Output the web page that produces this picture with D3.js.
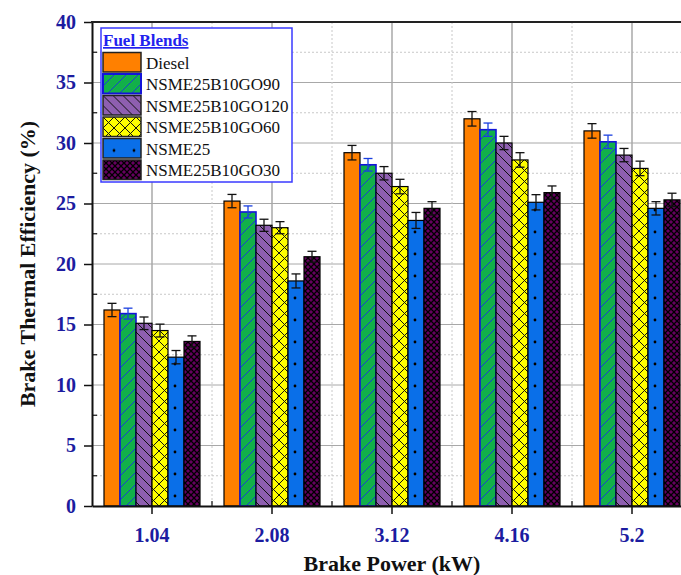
<!DOCTYPE html>
<html>
<head>
<meta charset="utf-8">
<script src="https://cdnjs.cloudflare.com/ajax/libs/d3/7.8.5/d3.min.js"></script>
<style>
  body { margin: 0; background: #fff; }
  svg { display: block; font-family: "Liberation Serif", "Times New Roman", serif; }
</style>
</head>
<body>
<div id="chart"></div>
<script>
// categories and series
const categories = ["1.04", "2.08", "3.12", "4.16", "5.2"];
const seriesNames = ["Diesel", "NSME25B10GO90", "NSME25B10GO120", "NSME25B10GO60", "NSME25", "NSME25B10GO30"];
const diesel = [16.2, 25.2, 29.2, 32.0, 31.0];
const go90 = [15.9, 24.3, 28.2, 31.1, 30.1];
const go120 = [15.1, 23.2, 27.5, 30.0, 29.0];
const go60 = [14.5, 23.0, 26.4, 28.6, 27.9];
const nsme25 = [12.3, 18.6, 23.6, 25.1, 24.6];
const go30 = [13.6, 20.6, 24.6, 25.9, 25.3];
// error bar half-widths
const dieselErr = [0.55, 0.55, 0.6, 0.6, 0.6];
const go90Err = [0.45, 0.5, 0.52, 0.55, 0.55];
const go120Err = [0.52, 0.5, 0.55, 0.55, 0.55];
const go60Err = [0.53, 0.5, 0.6, 0.6, 0.6];
const nsme25Err = [0.55, 0.58, 0.66, 0.63, 0.55];
const go30Err = [0.46, 0.45, 0.55, 0.55, 0.55];
const yTicks = [0, 5, 10, 15, 20, 25, 30, 35, 40];

const values = [diesel, go90, go120, go60, nsme25, go30];
const errors = [dieselErr, go90Err, go120Err, go60Err, nsme25Err, go30Err];

// fills / strokes per series (pattern ids)
const fills = ["#ff8000", "url(#pGreen)", "url(#pPurple)", "url(#pYellow)", "url(#pBlue)", "url(#pMaroon)"];
const strokes = ["#000", "#1414d8", "#000", "#000", "#000", "#000"];

let svgWidth = 681;
let svgHeight = 575;
let margin = { top: 22, left: 92 };
let plotRight = 692; // frame continues past the window edge
let plotBottom = 506;

let svg = d3.select("#chart")
    .append("svg")
    .attr("width", svgWidth)
    .attr("height", svgHeight);

// patterns
let defs = svg.append("defs");

let pg = defs.append("pattern").attr("id", "pGreen")
    .attr("patternUnits", "userSpaceOnUse").attr("width", 12).attr("height", 12);
pg.append("rect").attr("width", 12).attr("height", 12).attr("fill", "#12b04a");
pg.append("path").attr("d", "M-3,3 L3,-3 M0,12 L12,0 M9,15 L15,9")
    .attr("stroke", "#1a3fd0").attr("stroke-width", 1);

let pp = defs.append("pattern").attr("id", "pPurple")
    .attr("patternUnits", "userSpaceOnUse").attr("width", 10).attr("height", 10);
pp.append("rect").attr("width", 10).attr("height", 10).attr("fill", "#8e5fb0");
pp.append("path").attr("d", "M-3,7 L3,13 M0,0 L10,10 M7,-3 L13,3")
    .attr("stroke", "#111").attr("stroke-width", 1);

let py = defs.append("pattern").attr("id", "pYellow")
    .attr("patternUnits", "userSpaceOnUse").attr("width", 11).attr("height", 11);
py.append("rect").attr("width", 11).attr("height", 11).attr("fill", "#ffff00");
py.append("path").attr("d", "M0,0 L11,11 M11,0 L0,11")
    .attr("stroke", "#111").attr("stroke-width", 1);

let pb = defs.append("pattern").attr("id", "pBlue")
    .attr("patternUnits", "userSpaceOnUse").attr("width", 20).attr("height", 22);
pb.append("rect").attr("width", 20).attr("height", 22).attr("fill", "#0a6fe8");
pb.append("circle").attr("cx", 11).attr("cy", 12).attr("r", 1.4).attr("fill", "#000");

let pm = defs.append("pattern").attr("id", "pMaroon")
    .attr("patternUnits", "userSpaceOnUse").attr("width", 6).attr("height", 6);
pm.append("rect").attr("width", 6).attr("height", 6).attr("fill", "#66005f");
pm.append("path").attr("d", "M0,0 L6,6 M6,0 L0,6")
    .attr("stroke", "#000").attr("stroke-width", 1.3);

// scales
let xScale = d3.scaleBand()
    .domain(categories)
    .range([margin.left, plotRight])
    .paddingInner(0.2)
    .paddingOuter(0.1);
let xInner = d3.scaleBand()
    .domain(d3.range(seriesNames.length))
    .range([0, xScale.bandwidth()]);
let yScale = d3.scaleLinear()
    .domain([0, 40])
    .range([plotBottom, margin.top]);

// grid
let grid = svg.append("g");
let minorY = d3.range(2.5, 40, 5);
grid.selectAll(".gminy").data(minorY).enter().append("line")
    .attr("x1", margin.left).attr("x2", plotRight)
    .attr("y1", d => yScale(d)).attr("y2", d => yScale(d))
    .attr("stroke", "#c8c8c8").attr("stroke-dasharray", "2,2").attr("stroke-width", 1);
grid.selectAll(".gmajy").data(yTicks.slice(1, -1)).enter().append("line")
    .attr("x1", margin.left).attr("x2", plotRight)
    .attr("y1", d => yScale(d)).attr("y2", d => yScale(d))
    .attr("stroke", "#a8a8a8").attr("stroke-width", 1);
let step = xScale.step();
let midX = categories.slice(0, -1).map(c => xScale(c) + xScale.bandwidth() / 2 + step / 2);
grid.selectAll(".gminx").data(midX).enter().append("line")
    .attr("x1", d => d).attr("x2", d => d)
    .attr("y1", margin.top).attr("y2", plotBottom)
    .attr("stroke", "#c8c8c8").attr("stroke-dasharray", "2,2").attr("stroke-width", 1);
grid.selectAll(".gmajx").data(categories).enter().append("line")
    .attr("x1", d => xScale(d) + xScale.bandwidth() / 2).attr("x2", d => xScale(d) + xScale.bandwidth() / 2)
    .attr("y1", margin.top).attr("y2", plotBottom)
    .attr("stroke", "#a8a8a8").attr("stroke-width", 1.5);

// bars
let groups = svg.selectAll(".grp")
    .data(categories)
    .enter()
    .append("g")
    .attr("transform", d => `translate(${xScale(d)},0)`);

groups.each(function(cat, ci) {
    let g = d3.select(this);
    let rows = seriesNames.map((s, si) => ({ si: si, v: values[si][ci], e: errors[si][ci] }));
    g.selectAll("rect").data(rows).enter().append("rect")
        .attr("x", d => xInner(d.si))
        .attr("y", d => yScale(d.v))
        .attr("width", xInner.bandwidth())
        .attr("height", d => plotBottom - yScale(d.v))
        .attr("fill", d => fills[d.si])
        .attr("stroke", d => strokes[d.si])
        .attr("stroke-width", d => d.si === 1 ? 1.6 : 1.2);
    // error bars
    let eb = g.selectAll(".eb").data(rows).enter().append("g")
        .attr("stroke", d => d.si === 1 ? "#1a3fe0" : "#111")
        .attr("stroke-width", 1.3);
    let cx = d => xInner(d.si) + xInner.bandwidth() / 2;
    eb.append("line")
        .attr("x1", cx).attr("x2", cx)
        .attr("y1", d => yScale(d.v + d.e)).attr("y2", d => yScale(d.v - d.e));
    eb.append("line")
        .attr("x1", d => cx(d) - 4.5).attr("x2", d => cx(d) + 4.5)
        .attr("y1", d => yScale(d.v + d.e)).attr("y2", d => yScale(d.v + d.e));
    eb.append("line")
        .attr("x1", d => cx(d) - 4.5).attr("x2", d => cx(d) + 4.5)
        .attr("y1", d => yScale(d.v - d.e)).attr("y2", d => yScale(d.v - d.e));
});

// axes
let bottomAxis = d3.axisBottom(xScale).tickSizeInner(8).tickSizeOuter(0).tickPadding(14);
let xAxisG = svg.append("g")
    .attr("transform", `translate(0,${plotBottom})`)
    .call(bottomAxis);
xAxisG.select(".domain").attr("stroke", "#111").attr("stroke-width", 2);
xAxisG.selectAll(".tick line").attr("stroke", "#111").attr("stroke-width", 1.5);
xAxisG.selectAll(".tick text")
    .attr("font-family", "Liberation Serif").attr("font-weight", "bold")
    .attr("font-size", "20px").attr("fill", "#1c1ca0");

let leftAxis = d3.axisLeft(yScale).tickValues(yTicks).tickSizeInner(8).tickSizeOuter(0).tickPadding(8);
let yAxisG = svg.append("g")
    .attr("transform", `translate(${margin.left},0)`)
    .call(leftAxis);
yAxisG.select(".domain").attr("stroke", "#111").attr("stroke-width", 2);
yAxisG.selectAll(".tick line").attr("stroke", "#111").attr("stroke-width", 1.5);
yAxisG.selectAll(".tick text")
    .attr("font-family", "Liberation Serif").attr("font-weight", "bold")
    .attr("font-size", "20px").attr("fill", "#1c1ca0");

// minor ticks, inward
svg.append("g").selectAll("line").data(minorY).enter().append("line")
    .attr("x1", margin.left).attr("x2", margin.left + 5)
    .attr("y1", d => yScale(d)).attr("y2", d => yScale(d))
    .attr("stroke", "#111").attr("stroke-width", 1.2);
svg.append("g").selectAll("line").data(midX).enter().append("line")
    .attr("x1", d => d).attr("x2", d => d)
    .attr("y1", plotBottom).attr("y2", plotBottom - 5)
    .attr("stroke", "#111").attr("stroke-width", 1.2);

// top frame line
svg.append("line")
    .attr("x1", margin.left - 1).attr("x2", plotRight)
    .attr("y1", margin.top).attr("y2", margin.top)
    .attr("stroke", "#222").attr("stroke-width", 2);

// axis titles
svg.append("text")
    .attr("transform", `translate(35,${(margin.top + plotBottom) / 2}) rotate(-90)`)
    .attr("text-anchor", "middle")
    .attr("font-weight", "bold").attr("font-size", "22px").attr("fill", "#111")
    .text("Brake Thermal Efficiency (%)");
svg.append("text")
    .attr("x", (margin.left + plotRight) / 2)
    .attr("y", 571)
    .attr("text-anchor", "middle")
    .attr("font-weight", "bold").attr("font-size", "22px").attr("fill", "#111")
    .text("Brake Power (kW)");

// legend
let legend = svg.append("g");
legend.append("rect")
    .attr("x", 101).attr("y", 28).attr("width", 191).attr("height", 154)
    .attr("fill", "#fff").attr("stroke", "#3a3aff").attr("stroke-width", 1.5);
legend.append("text")
    .attr("x", 103).attr("y", 46)
    .attr("font-weight", "bold").attr("font-size", "17px").attr("fill", "#2222ee")
    .attr("text-decoration", "underline")
    .text("Fuel Blends");
let items = legend.selectAll(".li").data(seriesNames).enter().append("g")
    .attr("transform", (d, i) => `translate(103,${52.5 + i * 21.5})`);
items.append("rect")
    .attr("width", 38).attr("height", 19.5)
    .attr("fill", (d, i) => fills[i])
    .attr("stroke", (d, i) => i === 1 ? "#1414d8" : "#222")
    .attr("stroke-width", (d, i) => i === 1 ? 2 : 1.5);
items.append("text")
    .attr("x", 43).attr("y", 16)
    .attr("font-size", "17px").attr("fill", "#111")
    .text(d => d);
</script>
</body>
</html>
